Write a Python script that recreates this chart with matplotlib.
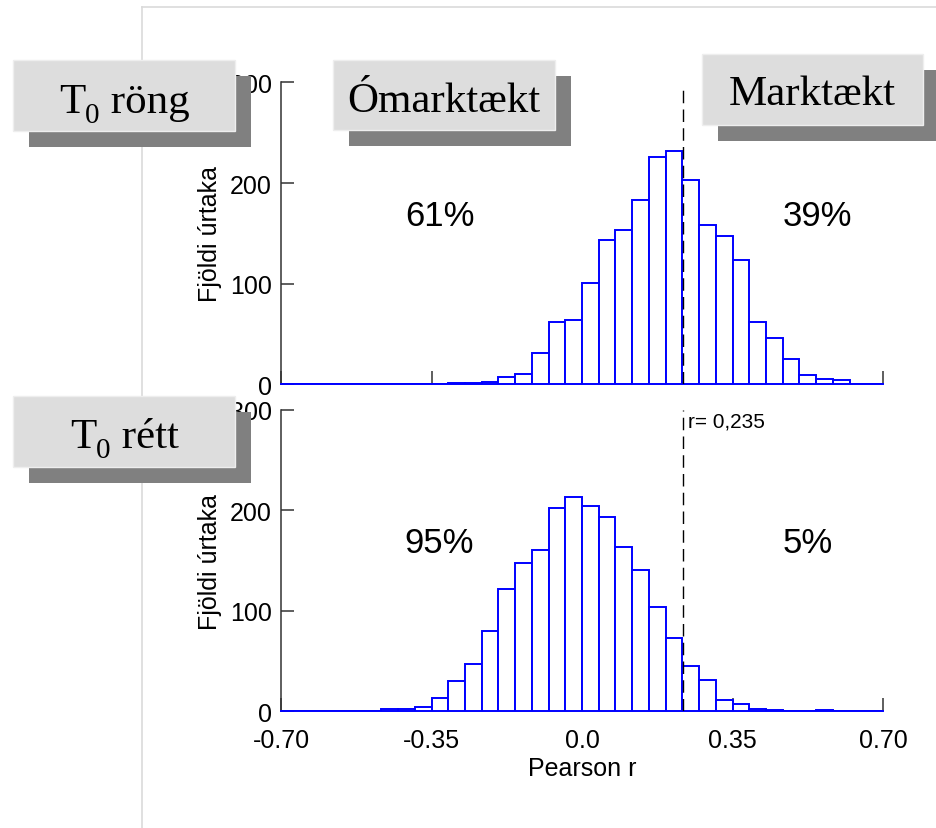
import numpy as np
import matplotlib
matplotlib.use("Agg")
import matplotlib.pyplot as plt
from matplotlib.patches import Rectangle
from matplotlib.lines import Line2D

plt.rcParams['font.family'] = ['Liberation Sans', 'DejaVu Sans']

# ---- data ----
bin_lo, bin_hi, n_bins = -0.70, 0.70, 36
top_counts = [0, 0, 0, 0, 0, 0, 0, 0, 0, 0,
              1, 1, 2, 7, 10, 31, 62, 64, 101, 143, 153, 183, 226, 232,
              203, 158, 147, 124, 62, 46, 25, 9, 5, 4, 0, 0]
bottom_counts = [0, 0, 0, 0, 0, 0,
                 2, 2, 4, 13, 30, 47, 80, 122, 148, 161, 202, 213, 204,
                 193, 164, 141, 104, 73, 45, 31, 11, 7, 2, 1, 0, 0, 1, 0, 0, 0]
r_threshold = 0.235
xticks = [-0.70, -0.35, 0.0, 0.35, 0.70]
xtick_labels = ["-0.70", "-0.35", "0.0", "0.35", "0.70"]
yticks = [0, 100, 200, 300]
top_pcts = ("61%", "39%")
bottom_pcts = ("95%", "5%")
ylabel = "Fjöldi úrtaka"
xlabel = "Pearson r"
r_label = "r= 0,235"

W, H = 937, 829
fig = plt.figure(figsize=(W / 100, H / 100), dpi=100)
renderer = fig.canvas.get_renderer()

def px_rect(x0, y0, x1, y1):
    return (x0 / W, 1 - y1 / H, (x1 - x0) / W, (y1 - y0) / H)

# background frame lines
fig.add_artist(Line2D([142 / W, 142 / W], [0, 1 - 8 / H], transform=fig.transFigure,
                      color='#DADADA', lw=1.2, zorder=0))
fig.add_artist(Line2D([142 / W, 1], [1 - 8 / H, 1 - 8 / H], transform=fig.transFigure,
                      color='#DADADA', lw=1.2, zorder=0))

ax_top = fig.add_axes(px_rect(281, 83.4, 883, 385.4))
ax_bot = fig.add_axes(px_rect(281, 411.0, 883, 712.3))

edges = np.linspace(bin_lo, bin_hi, n_bins + 1)
bw = edges[1] - edges[0]
spine_c = '#333333'

for ax, counts, pcts in ((ax_top, top_counts, top_pcts), (ax_bot, bottom_counts, bottom_pcts)):
    ax.bar(edges[:-1], counts, width=bw, align='edge', facecolor='white',
           edgecolor='#0000FF', linewidth=1.4, zorder=3)
    ax.set_xlim(bin_lo, bin_hi)
    ax.set_ylim(0, 300)
    for s in ('top', 'right'):
        ax.spines[s].set_visible(False)
    ax.spines['left'].set_color(spine_c)
    ax.spines['left'].set_linewidth(1.1)
    ax.spines['bottom'].set_color('#0000FF')
    ax.spines['bottom'].set_linewidth(1.4)
    ax.set_xticks(xticks)
    ax.set_yticks(yticks)
    ax.tick_params(axis='both', direction='in', length=9.5, width=1.1, color=spine_c,
                   labelsize=18)
    ax.tick_params(axis='y', pad=6.5)
    ax.tick_params(axis='x', pad=12)
    ax.set_ylabel(ylabel, fontsize=18, labelpad=6)
    ax.text(-0.412, 168, pcts[0], fontsize=25, ha='left', va='center')
    ax.text(0.467, 168, pcts[1], fontsize=25, ha='left', va='center')
    ax.patch.set_alpha(0)

ax_top.set_xticklabels([])
ax_bot.set_xticklabels(xtick_labels)
ax_bot.set_xlabel(xlabel, fontsize=18, labelpad=3)

ax_top.axvline(r_threshold, ymin=0, ymax=0.985, color='black', lw=1.0,
               dashes=(9, 4.5), zorder=4)
ax_bot.axvline(r_threshold, ymin=0, ymax=1.0, color='black', lw=1.0,
               dashes=(9, 4.5), zorder=4)
ax_bot.text(r_threshold + 0.012, 289, r_label, fontsize=15, ha='left', va='center')

serif = ['Liberation Serif', 'DejaVu Serif']
# labelled boxes with drop shadows (pixel coords: top-left, bottom-right, text baseline)
boxes = [
    (13.3, 61, 235, 131.7, 113.3, ('T', '0', ' röng')),
    (333.3, 61, 555, 131.3, 111.7, ('Ómarktækt', '', '')),
    (701.7, 55, 923, 126, 105, ('Marktækt', '', '')),
    (13.3, 397.3, 235, 467.7, 448.3, ('T', '0', ' rétt')),
]
for x0, y0, x1, y1, yb, parts in boxes:
    fig.add_artist(Rectangle(px_rect(x0 + 16, y0 + 16, x1 + 16, y1 + 16)[:2],
                             (x1 - x0) / W, (y1 - y0) / H, transform=fig.transFigure,
                             facecolor='#808080', edgecolor='none', zorder=5))
    fig.add_artist(Rectangle(px_rect(x0, y0, x1, y1)[:2],
                             (x1 - x0) / W, (y1 - y0) / H, transform=fig.transFigure,
                             facecolor='#DDDDDD', edgecolor='#EEEEEE', lw=1, zorder=6))
    main, sub, rest = parts
    sizes = (31, 21, 31)
    drops = (0, 10, 0)
    texts = []
    for s, fs, d in zip((main, sub, rest), sizes, drops):
        if not s:
            continue
        t = fig.text(0, 1 - (yb + d) / H, s, fontsize=fs, ha='left', va='baseline',
                     family=serif, zorder=7)
        texts.append(t)
    widths = [t.get_window_extent(renderer).width for t in texts]
    total = sum(widths)
    xs = (x0 + x1) / 2 - total / 2
    for t, w in zip(texts, widths):
        t.set_x(xs / W)
        xs += w

fig.savefig('out.png', dpi=100)
